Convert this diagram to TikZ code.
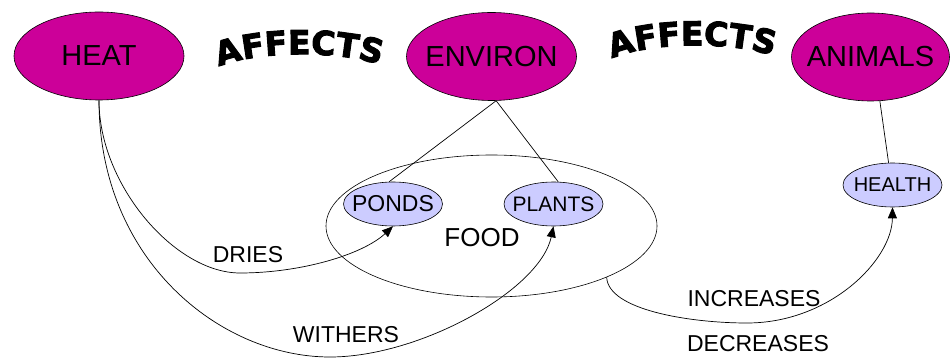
\documentclass[tikz,border=0pt]{standalone}
\usepackage{fontspec}
\setmainfont{Liberation Sans}
\newfontfamily\wafont{DejaVu Sans Bold}[FakeBold=3]
\usetikzlibrary{arrows.meta,shapes.geometric,decorations.text}
\definecolor{mag}{RGB}{204,0,153}
\definecolor{lav}{RGB}{204,204,255}
\begin{document}
\begin{tikzpicture}[x=1pt,y=-1pt,
  big/.style={ellipse, draw, fill=mag, line width=0.6pt, minimum width=170pt, minimum height=88pt, inner sep=0pt, font=\fontsize{29}{30}\selectfont},
  small/.style={ellipse, draw, fill=lav, line width=0.6pt, minimum width=99pt, minimum height=44pt, inner sep=0pt},
  lbl/.style={font=\fontsize{23}{24}\selectfont, inner sep=0pt},
  link/.style={line width=0.7pt},
  arr/.style={line width=0.7pt, -{Triangle[length=11pt,width=9pt]}},
  wordart/.style={decorate, decoration={text along path, text align=center,
      text={|\wafont\fontsize{33}{33}\selectfont|AFFECTS}}}]
\useasboundingbox (0,0) rectangle (950,358);
% ellipses
\node[ellipse, draw, line width=0.6pt, minimum width=331pt, minimum height=142pt, inner sep=0pt] (food) at (491.5,226) {};
\node[font=\fontsize{26}{27}\selectfont, inner sep=0pt] (foodlbl) at (482,238) {FOOD};
\node[big] (heat) at (99,56) {\makebox[0pt]{HEAT}};
\node[big] (environ) at (491.5,56.5) {\makebox[0pt]{ENVIRON}};
\node[big, minimum width=158pt] (animals) at (870.5,57) {\makebox[0pt]{ANIMALS}};
\node[small, font=\fontsize{23}{24}\selectfont] (ponds) at (393,204) {\makebox[0pt]{PONDS}};
\node[small, font=\fontsize{21}{22}\selectfont] (plants) at (553.5,204) {\makebox[0pt]{PLANTS}};
\node[small, font=\fontsize{20}{21}\selectfont] (health) at (892.5,185) {\makebox[0pt]{HEALTH}};
% plain links
\draw[link] (environ.-84) -- (ponds.100);
\draw[link] (environ.-84) -- (plants.78);
\draw[link] (animals.-78) -- (health.100);
% arrows
\draw[arr] (heat.south) .. controls (99,185) and (175,273) .. (240,273) .. controls (300,273) and (362,255) .. (ponds.south);
\draw[arr] (heat.south) .. controls (99,260) and (220,357) .. (330,357) .. controls (420,357) and (540,290) .. (plants.south);
\draw[arr] (food.-24.5) .. controls (608,310) and (690,323) .. (747,323) .. controls (830,323) and (892,260) .. (health.south);
% labels
\node[lbl] (dries) at (248,255) {DRIES};
\node[lbl] (withers) at (346,335) {WITHERS};
\node[lbl] (inc) at (754,299) {INCREASES};
\node[lbl] (dec) at (758,344) {DECREASES};
% word art
\path[wordart] (216,68) .. controls (256,50) and (342,50) .. (383,66);
\path[wordart] (609,60) .. controls (649,41) and (735,41) .. (776,57);
\end{tikzpicture}
\end{document}
